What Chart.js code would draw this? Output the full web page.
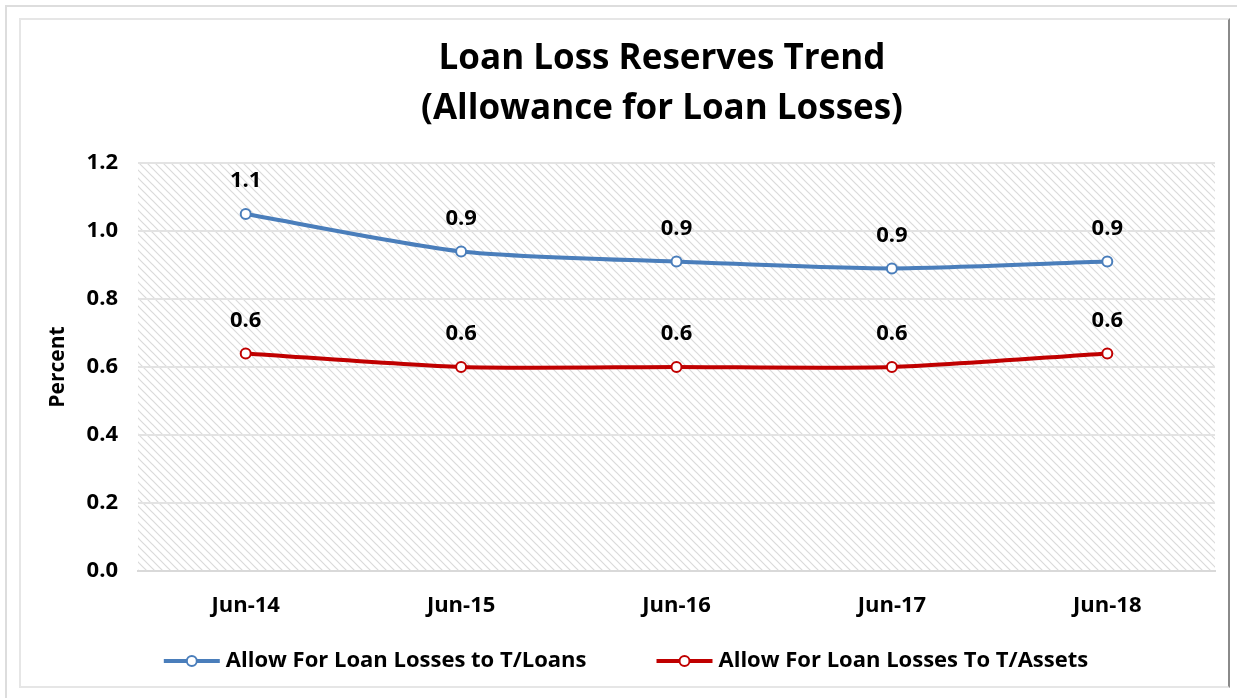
<!DOCTYPE html>
<html>
<head>
<meta charset="utf-8">
<script src="https://cdn.jsdelivr.net/npm/chart.js@4"></script>
<style>
  html, body { margin: 0; padding: 0; background: #fff; }
  body { width: 1237px; height: 698px; position: relative; overflow: hidden; }
  #wrap { position: absolute; left: 0; top: 0; width: 1237px; height: 698px; }
  .frame { position: absolute; pointer-events: none; }
  #outer { left: 5px; top: 5px; width: 1240px; height: 700px; border-left: 2px solid #ddd; border-top: 2px solid #ddd; }
  #inner { left: 19px; top: 18px; width: 1207px; height: 666px; border: 2px solid #e6e6e6; border-right-color: #8a8a8a; }
</style>
</head>
<body>
<div id="wrap"><canvas id="chart"></canvas></div>
<div class="frame" id="outer"></div>
<div class="frame" id="inner"></div>
<script>
// data
const categories = ["Jun-14", "Jun-15", "Jun-16", "Jun-17", "Jun-18"];
const toLoans = [1.05, 0.94, 0.91, 0.89, 0.91];
const toAssets = [0.64, 0.60, 0.60, 0.60, 0.64];
const yTicks = [0, 0.2, 0.4, 0.6, 0.8, 1.0, 1.2];
const titleLines = ["Loan Loss Reserves Trend", "(Allowance for Loan Losses)"];

const BLUE = "#4a7ebb";
const RED = "#c00000";
const FONT = "'Open Sans', sans-serif";

// hatched plot background
function hatch() {
  const c = document.createElement("canvas");
  c.width = 8; c.height = 8;
  const g = c.getContext("2d");
  g.strokeStyle = "rgba(0,0,0,0.15)";
  g.lineWidth = 1.2;
  g.beginPath();
  g.moveTo(-1, -1); g.lineTo(9, 9);
  g.moveTo(-1, 7); g.lineTo(1, 9);
  g.moveTo(7, -1); g.lineTo(9, 1);
  g.stroke();
  return c;
}

const bgPlugin = {
  id: "bg",
  beforeDraw(chart) {
    const { ctx, chartArea: a } = chart;
    ctx.save();
    ctx.fillStyle = ctx.createPattern(hatch(), "repeat");
    ctx.fillRect(a.left, a.top, a.right - a.left, a.bottom - a.top);
    ctx.restore();
  }
};

// title sits a bit right of centre in the original, so draw it by hand
const titlePlugin = {
  id: "bigTitle",
  afterDraw(chart) {
    const ctx = chart.ctx;
    ctx.save();
    ctx.font = "bold 35px " + FONT;
    ctx.fillStyle = "#000";
    ctx.textAlign = "center";
    ctx.textBaseline = "middle";
    titleLines.forEach((t, i) => ctx.fillText(t, 662, 59 + i * 50));
    ctx.restore();
  }
};

// legend: line + hollow circle, then label
const legendPlugin = {
  id: "lineLegend",
  afterDraw(chart) {
    const ctx = chart.ctx;
    const sets = chart.data.datasets;
    const sw = 56, gapIn = 6, gapOut = 70, y = 661;
    ctx.save();
    ctx.font = "bold 22px " + FONT;
    const widths = sets.map(d => sw + gapIn + ctx.measureText(d.label).width);
    const total = widths.reduce((a, b) => a + b, 0) + gapOut * (sets.length - 1);
    let x = 626 - total / 2;
    sets.forEach((d, i) => {
      ctx.strokeStyle = d.borderColor;
      ctx.lineWidth = 4;
      ctx.beginPath(); ctx.moveTo(x, y); ctx.lineTo(x + sw, y); ctx.stroke();
      ctx.fillStyle = "#fff";
      ctx.lineWidth = 2;
      ctx.beginPath(); ctx.arc(x + sw / 2, y, 5, 0, Math.PI * 2); ctx.fill(); ctx.stroke();
      ctx.fillStyle = "#000";
      ctx.textBaseline = "middle";
      ctx.fillText(d.label, x + sw + gapIn, y);
      x += widths[i] + gapOut;
    });
    ctx.restore();
  }
};

const labelPlugin = {
  id: "valueLabels",
  afterDatasetsDraw(chart) {
    const ctx = chart.ctx;
    ctx.save();
    ctx.font = "bold 22px " + FONT;
    ctx.fillStyle = "#000";
    ctx.textAlign = "center";
    ctx.textBaseline = "middle";
    chart.data.datasets.forEach((ds, i) => {
      chart.getDatasetMeta(i).data.forEach((pt, j) => {
        ctx.fillText(ds.data[j].toFixed(1), pt.x, pt.y - 33);
      });
    });
    ctx.restore();
  }
};

new Chart(document.getElementById("chart"), {
  type: "line",
  data: {
    labels: categories,
    datasets: [
      {
        label: "Allow For Loan Losses to T/Loans",
        data: toLoans,
        borderColor: BLUE,
        borderWidth: 4,
        tension: 0.25,
        pointRadius: 5,
        pointBorderWidth: 2,
        pointBackgroundColor: "#fff",
        pointBorderColor: BLUE
      },
      {
        label: "Allow For Loan Losses To T/Assets",
        data: toAssets,
        borderColor: RED,
        borderWidth: 4,
        tension: 0.25,
        pointRadius: 5,
        pointBorderWidth: 2,
        pointBackgroundColor: "#fff",
        pointBorderColor: RED
      }
    ]
  },
  options: {
    responsive: true,
    maintainAspectRatio: false,
    animation: false,
    layout: { padding: { left: 45, right: 22, top: 163, bottom: 77 } },
    plugins: {
      title: { display: false },
      legend: { display: false },
      tooltip: { enabled: false }
    },
    scales: {
      x: {
        offset: true,
        grid: { display: false, drawTicks: false },
        border: { color: "#d9d9d9", width: 2 },
        ticks: { color: "#000", padding: 22, font: { family: FONT, size: 22, weight: "bold" } },
        afterFit(s) { s.height = 50; }
      },
      y: {
        min: 0,
        max: 1.2,
        afterBuildTicks(s) { s.ticks = yTicks.map(v => ({ value: v })); },
        grid: { color: "#e3e3e3", lineWidth: 2, drawTicks: false },
        border: { display: false },
        ticks: {
          color: "#000",
          padding: 20,
          font: { family: FONT, size: 22, weight: "bold" },
          callback: v => v.toFixed(1)
        },
        title: {
          display: true,
          text: "Percent",
          color: "#000",
          font: { family: FONT, size: 21, weight: "bold" },
          padding: 0
        },
        afterFit(s) { s.width = 93; }
      }
    }
  },
  plugins: [bgPlugin, titlePlugin, labelPlugin, legendPlugin]
});
</script>
</body>
</html>
